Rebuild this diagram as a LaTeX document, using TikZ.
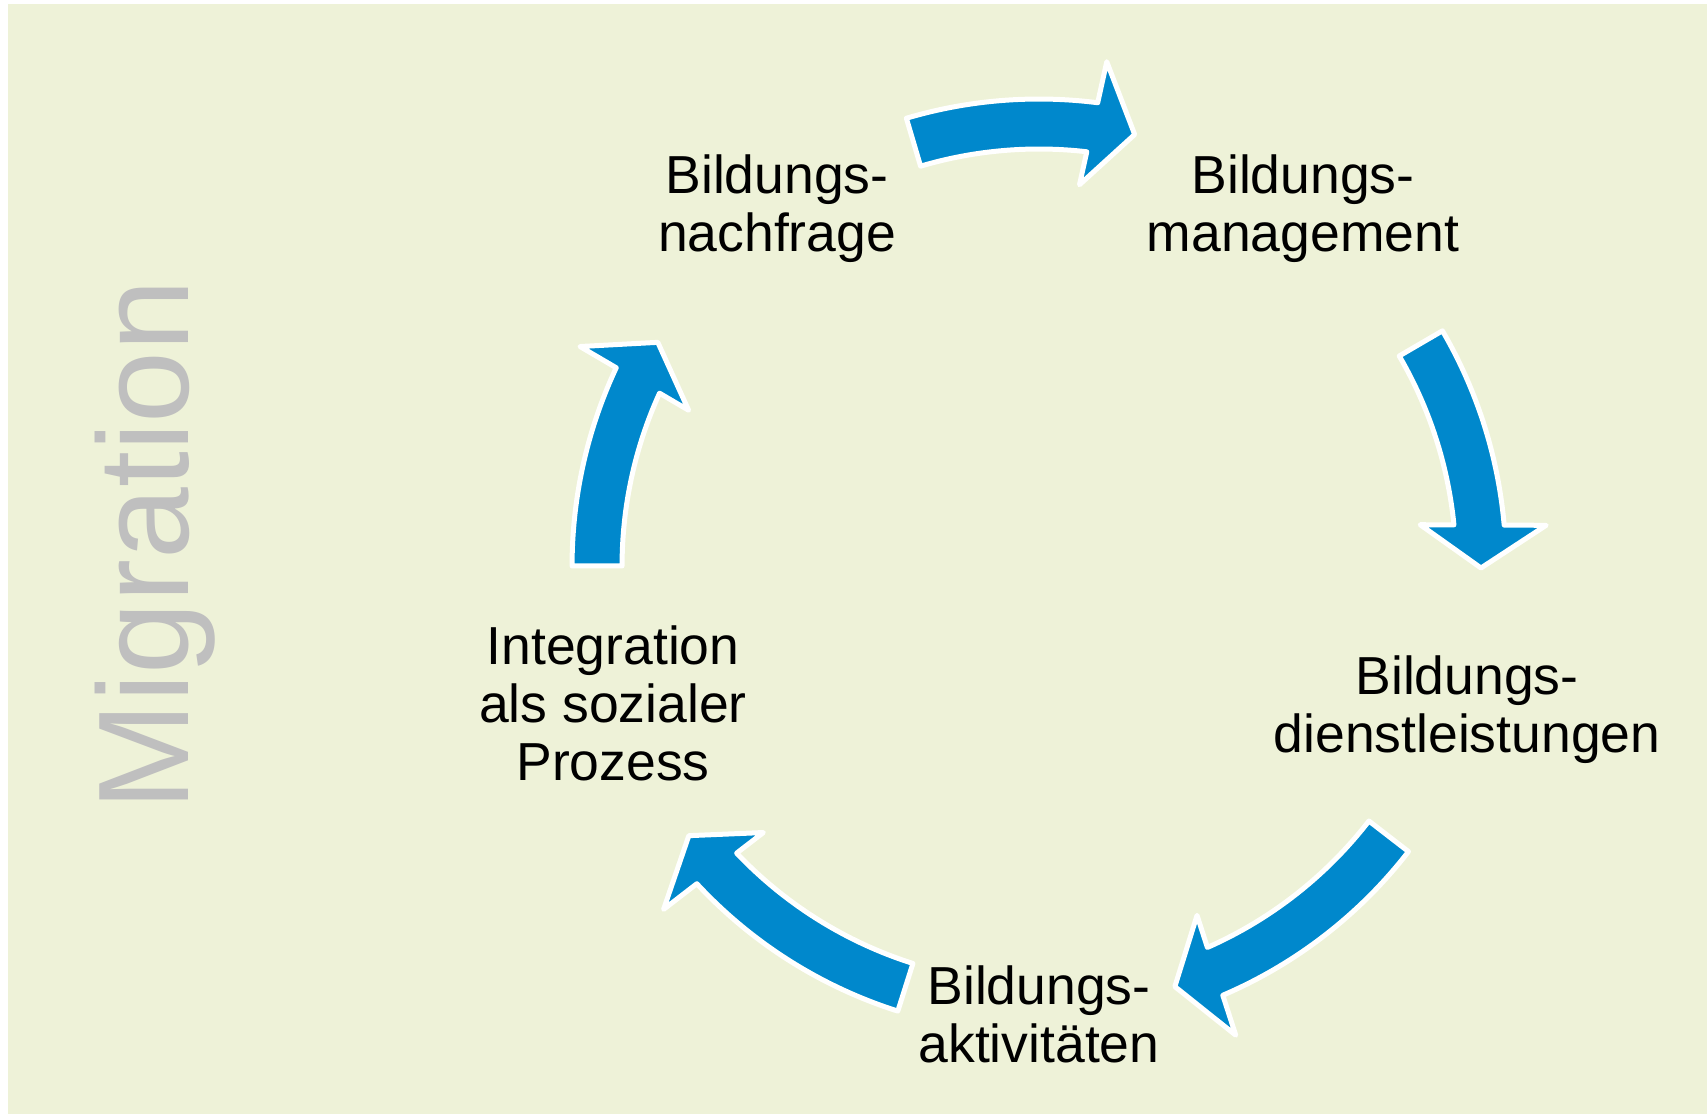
\documentclass[tikz,border=0pt]{standalone}
\usepackage{fontspec}
\setmainfont{Liberation Sans}
\definecolor{bgcol}{RGB}{238,242,216}
\definecolor{arrowblue}{RGB}{0,136,204}
\definecolor{miggray}{RGB}{191,191,191}
\newcommand\cyarrow[2]{%
  \begin{scope}[shift={(1039,548)}, rotate=#1]
    \filldraw[cyclearrow] (442,0) -- (507,43) -- (5.28:467)
      arc[start angle=5.28, end angle=#2, radius=467] -- (#2:417)
      arc[start angle=#2, end angle=5.92, radius=417] -- (381,43) -- cycle;
  \end{scope}}
\begin{document}
\begin{tikzpicture}[x=1pt,y=1pt,
  cyclearrow/.style={fill=arrowblue, draw=white, line width=5pt, line join=round},
  label/.style={align=center, anchor=north, inner sep=0pt, font=\fontsize{53.5}{58}\selectfont, text=black}]
  \useasboundingbox (0,0) rectangle (1707,1114);
  \fill[white] (0,0) rectangle (1707,1114);
  \fill[bgcol] (8,0) rectangle (1707,1110);
  \node[rotate=90, anchor=base, inner sep=0pt, text=miggray, font=\fontsize{129}{129}\selectfont] (mig) at (188,569) {Migration};
  \cyarrow{77.5}{29.0}
  \cyarrow{-0.26}{30.5}
  \cyarrow{-72.1}{34.4}
  \cyarrow{-142.4}{34.8}
  \cyarrow{149.6}{30.4}
  \node[label] (nach) at (777,959) {Bildungs-\\nachfrage};
  \node[label] (mgmt) at (1303,959) {Bildungs-\\management};
  \node[label] (dienst) at (1467,458) {Bildungs-\\dienstleistungen};
  \node[label] (akt) at (1039,148.5) {Bildungs-\\aktivitäten};
  \node[label] (integ) at (613,488.5) {Integration\\als sozialer\\Prozess};
\end{tikzpicture}
\end{document}
